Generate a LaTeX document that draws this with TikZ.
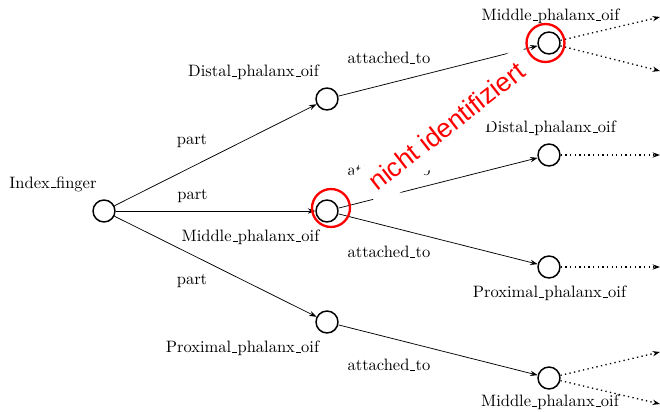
\documentclass[tikz,border=0pt]{standalone}
\usepackage{fontspec}
\newfontfamily\redsans{Liberation Sans}
\usetikzlibrary{arrows.meta}
\newcommand{\us}{\leavevmode\kern.06em\vbox{\hrule width.3em height .4pt}\kern.02em}
\begin{document}
\begin{tikzpicture}[x=0.606pt,y=-0.606pt,
  ent/.style={circle,draw,line width=0.9pt,minimum size=13.3pt,inner sep=0pt},
  lbl/.style={inner sep=0pt,font=\normalsize},
  rel/.style={-{Stealth[length=4.5pt,width=3.2pt]},line width=0.45pt},
  more/.style={-{Stealth[length=4.5pt,width=3.2pt]},line width=0.8pt,dotted},
  redring/.style={circle,draw=red,line width=1.4pt,minimum size=23pt,inner sep=0pt}]
\useasboundingbox (0,0) rectangle (660,411);
% nodes
\node[ent] (if) at (104,211) {};
\node[ent] (dp) at (327,99) {};
\node[ent] (mp) at (327,211) {};
\node[ent] (pp) at (327,322) {};
\node[ent] (mp2) at (549,43) {};
\node[ent] (dp2) at (549,155) {};
\node[ent] (pp2) at (549,267) {};
\node[ent] (mp3) at (549,378) {};
% node labels
\node[lbl] (lif) at (53,184) {Index\us finger};
\node[lbl] (ldp) at (253.5,72) {Distal\us phalanx\us oif};
\node[lbl] (lmp) at (250.5,237) {Middle\us phalanx\us oif};
\node[lbl] (lpp) at (242.5,348) {Proximal\us phalanx\us oif};
\node[lbl] (lmp2) at (550.5,16) {Middle\us phalanx\us oif};
\node[lbl] (ldp2) at (550.5,128) {Distal\us phalanx\us oif};
\node[lbl] (lpp2) at (549.5,293) {Proximal\us phalanx\us oif};
\node[lbl] (lmp3) at (550,402) {Middle\us phalanx\us oif};
% edges
\draw[rel] (if) -- (dp);
\draw[rel] (if) -- (mp);
\draw[rel] (if) -- (pp);
\draw[rel] (dp) -- (mp2);
\draw[rel] (mp) -- (dp2);
\draw[rel] (mp) -- (pp2);
\draw[rel] (pp) -- (mp3);
% edge labels
\node[lbl] (e1) at (192,141) {part};
\node[lbl] (e2) at (192.5,196) {part};
\node[lbl] (e3) at (192,281) {part};
\node[lbl] (e4) at (389,58) {attached\us to};
\node[lbl] (e5) at (389,170) {attached\us to};
\node[lbl] (e6) at (389,252) {attached\us to};
\node[lbl] (e7) at (389,365) {attached\us to};
% continuation arrows
\coordinate (c1) at (660,17);
\coordinate (c2) at (660,71);
\coordinate (c3) at (660,155);
\coordinate (c4) at (660,267);
\coordinate (c5) at (660,352);
\coordinate (c6) at (660,404);
\draw[more] (mp2) -- (c1);
\draw[more] (mp2) -- (c2);
\draw[more] (dp2) -- (c3);
\draw[more] (pp2) -- (c4);
\draw[more] (mp3) -- (c5);
\draw[more] (mp3) -- (c6);
% red annotations
\node[redring] (r1) at (331,208) {};
\node[redring] (r2) at (545.5,43) {};
\node[rotate=38,anchor=base west,fill=white,text=red,inner xsep=5pt,inner ysep=5pt,text height=12.6pt,text depth=3.8pt,font=\redsans\fontsize{16}{18}\selectfont] (nid) at (371,197) {nicht identifiziert\hspace*{3pt}};
\end{tikzpicture}
\end{document}
